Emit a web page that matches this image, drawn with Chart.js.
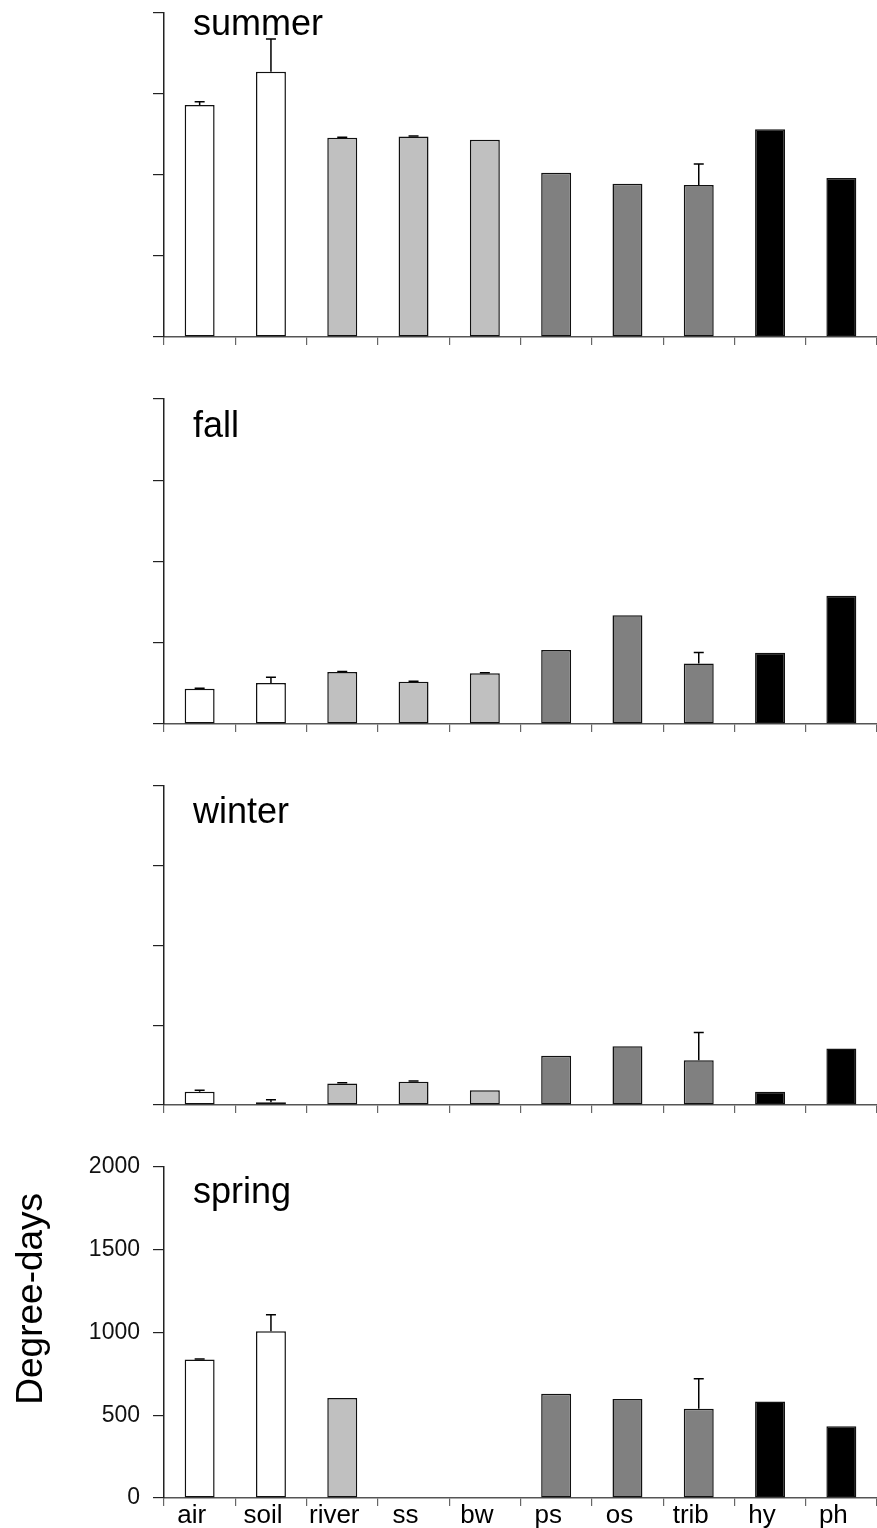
<!DOCTYPE html>
<html>
<head>
<meta charset="utf-8">
<script src="https://cdn.jsdelivr.net/npm/chart.js@4.4.1/dist/chart.umd.min.js"></script>
<style>
  html, body { margin: 0; padding: 0; background: #fff; }
  #wrap { position: relative; width: 877px; height: 1528px; overflow: hidden; }
  canvas { position: absolute; left: 0; }
</style>
</head>
<body>
<div id="wrap">
  <canvas id="summerChart" width="877" height="360" style="top:0px"></canvas>
  <canvas id="fallChart" width="877" height="360" style="top:380px"></canvas>
  <canvas id="winterChart" width="877" height="370" style="top:760px"></canvas>
  <canvas id="springChart" width="877" height="388" style="top:1140px"></canvas>
</div>
<script>
var categories = ["air", "soil", "river", "ss", "bw", "ps", "os", "trib", "hy", "ph"];
var yTicks = [0, 500, 1000, 1500, 2000];

var summerValues = [1432, 1638, 1230, 1237, 1218, 1014, 946, 938, 1282, 981];
var summerErrors = [20, 202, 3, 3, 0, 0, 0, 130, 0, 0];
var fallValues = [217, 252, 320, 260, 313, 456, 670, 373, 439, 789];
var fallErrors = [3, 36, 3, 3, 3, 0, 0, 67, 0, 0];
var winterValues = [83, 17, 135, 146, 92, 308, 369, 281, 83, 354];
var winterErrors = [10, 16, 4, 4, 0, 0, 0, 173, 0, 0];
var springValues = [836, 1007, 604, 0, 0, 630, 598, 539, 583, 434];
var springErrors = [3, 99, 0, 0, 0, 0, 0, 181, 0, 0];

var barColors = ["#ffffff", "#ffffff", "#c0c0c0", "#c0c0c0", "#c0c0c0",
                 "#808080", "#808080", "#808080", "#000000", "#000000"];

var FONT = "'Liberation Sans', Arial, Helvetica, sans-serif";
Chart.defaults.font.family = FONT;

// one-sided (upward) error bars, placed with the chart's own scales
function errorBarPlugin(errors) {
  return {
    id: "errorBars",
    afterDatasetsDraw: function (chart) {
      var ctx = chart.ctx;
      var xs = chart.scales.x, ys = chart.scales.y;
      var values = chart.data.datasets[0].data;
      ctx.save();
      ctx.strokeStyle = "#000";
      ctx.lineWidth = 1.5;
      for (var i = 0; i < values.length; i++) {
        if (!errors[i]) continue;
        var x = xs.getPixelForValue(i);
        var y0 = ys.getPixelForValue(values[i]);
        var y1 = ys.getPixelForValue(values[i] + errors[i]);
        ctx.beginPath();
        ctx.moveTo(x, y0);
        ctx.lineTo(x, y1);
        ctx.moveTo(x - 5, y1);
        ctx.lineTo(x + 5, y1);
        ctx.stroke();
      }
      ctx.restore();
    }
  };
}

// season name inside the plot, plus the y title on the last panel
function labelPlugin(season, dy, showTitle) {
  return {
    id: "seasonLabel",
    afterDraw: function (chart) {
      var ctx = chart.ctx, a = chart.chartArea;
      ctx.save();
      ctx.fillStyle = "#000";
      ctx.font = "36px " + FONT;
      ctx.textAlign = "left";
      ctx.textBaseline = "alphabetic";
      ctx.fillText(season, a.left + 29, a.top + dy);
      if (showTitle) {
        ctx.font = "37px " + FONT;
        ctx.translate(42, a.top + 132);
        ctx.rotate(-Math.PI / 2);
        ctx.textAlign = "center";
        ctx.fillText("Degree-days", 0, 0);
      }
      ctx.restore();
    }
  };
}

function makePanel(id, season, values, errors, padTop, xHeight, dy, last) {
  return new Chart(document.getElementById(id), {
    type: "bar",
    data: {
      labels: categories,
      datasets: [{
        data: values,
        backgroundColor: barColors,
        borderColor: "#111",
        borderWidth: 1.5,
        borderSkipped: false,
        categoryPercentage: 1,
        barPercentage: 0.42
      }]
    },
    options: {
      responsive: false,
      devicePixelRatio: 1,
      animation: false,
      layout: { padding: { top: padTop, right: 0, bottom: 0, left: 0 } },
      plugins: { legend: { display: false }, tooltip: { enabled: false } },
      scales: {
        x: {
          offset: true,
          afterFit: function (s) { s.height = xHeight; },
          grid: { offset: true, drawOnChartArea: false, tickLength: 8, color: "#666", lineWidth: 1.2 },
          border: { color: "#555", width: 1.5 },
          ticks: {
            display: last,
            autoSkip: false,
            maxRotation: 0,
            labelOffset: -8,
            padding: -3,
            color: "#000",
            font: { size: 26, lineHeight: 1 }
          }
        },
        y: {
          min: yTicks[0],
          max: yTicks[yTicks.length - 1],
          afterFit: function (s) { s.width = 164; },
          afterBuildTicks: function (s) {
            s.ticks = yTicks.map(function (v) { return { value: v }; });
          },
          grid: { drawOnChartArea: false, tickLength: 11, color: "#222", lineWidth: 1.2 },
          border: { color: "#222", width: 1.5 },
          ticks: {
            display: last,
            padding: 13,
            color: "#111",
            font: { size: 23 },
            callback: function (v) { return String(v); }
          }
        }
      }
    },
    plugins: [errorBarPlugin(errors), labelPlugin(season, dy, last)]
  });
}

makePanel("summerChart", "summer", summerValues, summerErrors, 13, 23, 22, false);
makePanel("fallChart", "fall", fallValues, fallErrors, 19, 16, 38, false);
makePanel("winterChart", "winter", winterValues, winterErrors, 26, 25, 37, false);
makePanel("springChart", "spring", springValues, springErrors, 21, 30, 36, true);
</script>
</body>
</html>
